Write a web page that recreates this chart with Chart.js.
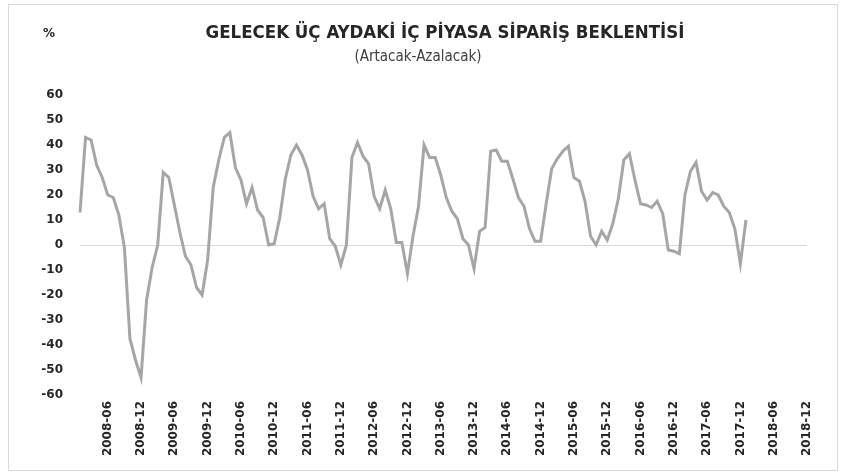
<!DOCTYPE html>
<html>
<head>
<meta charset="utf-8">
<script src="https://cdn.jsdelivr.net/npm/chart.js@4/dist/chart.umd.min.js"></script>
<style>
  html, body { margin: 0; padding: 0; background: #ffffff; }
  #wrap { position: relative; width: 849px; height: 475px; }
</style>
</head>
<body>
<div id="wrap"><canvas id="c" width="849" height="475"></canvas></div>
<script>
// ---- Data, monthly, 2008-01 .. 2018-01 ----
const y2008 = [13, 43, 42, 32, 27, 20, 19, 12, -1, -37.5, -46, -53];
const y2009 = [-22, -9, 0, 29, 27, 16, 5, -4.5, -8, -17, -20, -6];
const y2010 = [23, 34, 43, 45, 31, 26, 16.5, 23, 14, 11, 0, 0.5];
const y2011 = [11, 26.5, 36, 40, 36, 30, 19.5, 14.5, 16.5, 2.5, -0.5, -8];
const y2012 = [0, 35, 41, 35.5, 32.5, 19.5, 14.5, 22, 14.5, 1, 1, -11.5];
const y2013 = [3.5, 15.5, 40, 35, 35, 28, 19, 13.5, 10.5, 2.5, 0, -9.5];
const y2014 = [5.5, 7, 37.5, 38, 33.5, 33.5, 26.5, 19, 15.5, 6.5, 1.5, 1.5];
const y2015 = [16.5, 30.5, 34.5, 37.5, 39.5, 27, 25.5, 17.5, 3.5, 0, 5.5, 2];
const y2016 = [8.5, 18.5, 34, 36.5, 26, 16.5, 16, 15, 17.5, 12.5, -2, -2.5];
const y2017 = [-3.5, 20, 29.5, 33, 21.5, 18, 21, 20, 15.5, 13, 6.5, -7.5];
const y2018 = [10];

const years = [2008, 2009, 2010, 2011, 2012, 2013, 2014, 2015, 2016, 2017, 2018];
const months = ['01','02','03','04','05','06','07','08','09','10','11','12'];
const shownMonths = ['06', '12'];
const yTicks = [60, 50, 40, 30, 20, 10, 0, -10, -20, -30, -40, -50, -60];

const titleText = 'GELECEK ÜÇ AYDAKİ İÇ PİYASA SİPARİŞ BEKLENTİSİ';
const subtitleText = '(Artacak-Azalacak)';
const unitText = '%';

// build
const categories = [];
years.forEach(y => months.forEach(m => categories.push(y + '-' + m)));
const values = [].concat(y2008, y2009, y2010, y2011, y2012, y2013, y2014, y2015, y2016, y2017, y2018);

const FONT = '"DejaVu Sans", Verdana, sans-serif';
const FONT_C = '"DejaVu Sans Condensed", "DejaVu Sans", sans-serif';

const decor = {
  id: 'decor',
  beforeDraw(chart) {
    const ctx = chart.ctx;
    ctx.save();
    ctx.fillStyle = '#ffffff';
    ctx.fillRect(0, 0, chart.width, chart.height);
    ctx.strokeStyle = '#d9d9d9';
    ctx.lineWidth = 1;
    ctx.strokeRect(8.5, 4.5, 829, 466);
    ctx.restore();
  },
  afterDraw(chart) {
    const ctx = chart.ctx;
    ctx.save();
    ctx.textBaseline = 'middle';
    ctx.fillStyle = '#262626';
    ctx.textAlign = 'center';
    ctx.font = 'bold 18.5px ' + FONT_C;
    ctx.fillText(titleText, 445, 33);
    ctx.font = '15px ' + FONT_C;
    ctx.fillStyle = '#404040';
    ctx.fillText(subtitleText, 418, 57);
    ctx.textAlign = 'left';
    ctx.font = 'bold 12px ' + FONT;
    ctx.fillStyle = '#262626';
    ctx.fillText(unitText, 43, 34);
    ctx.restore();
  }
};

new Chart(document.getElementById('c'), {
  type: 'line',
  data: {
    labels: categories,
    datasets: [{
      data: values,
      borderColor: '#a6a6a6',
      borderWidth: 3,
      pointRadius: 0,
      pointHoverRadius: 0,
      tension: 0,
      fill: false
    }]
  },
  options: {
    responsive: false,
    animation: false,
    events: [],
    layout: { padding: { top: 95, right: 42, bottom: 5, left: 0 } },
    plugins: {
      legend: { display: false },
      tooltip: { enabled: false },
      title: { display: false }
    },
    scales: {
      x: {
        type: 'category',
        offset: false,
        grid: { display: false, drawTicks: false },
        border: { display: false },
        afterFit(scale) { scale.height = 75; },
        ticks: {
          autoSkip: false,
          minRotation: 90,
          maxRotation: 90,
          padding: 6,
          color: '#262626',
          font: { family: FONT, size: 12, weight: 'bold' },
          callback(val) {
            const l = this.getLabelForValue(val);
            return shownMonths.includes(l.slice(5)) ? l : null;
          }
        }
      },
      y: {
        min: -60,
        max: 60,
        afterFit(scale) { scale.width = 80; },
        afterBuildTicks(scale) { scale.ticks = yTicks.map(v => ({ value: v })); },
        grid: {
          drawTicks: false,
          color: ctx => (ctx.tick && ctx.tick.value === 0) ? '#d9d9d9' : 'rgba(0,0,0,0)',
          lineWidth: 1
        },
        border: { display: false },
        ticks: {
          padding: 17,
          color: '#262626',
          font: { family: FONT, size: 12, weight: 'bold' }
        }
      }
    }
  },
  plugins: [decor]
});
</script>
</body>
</html>
